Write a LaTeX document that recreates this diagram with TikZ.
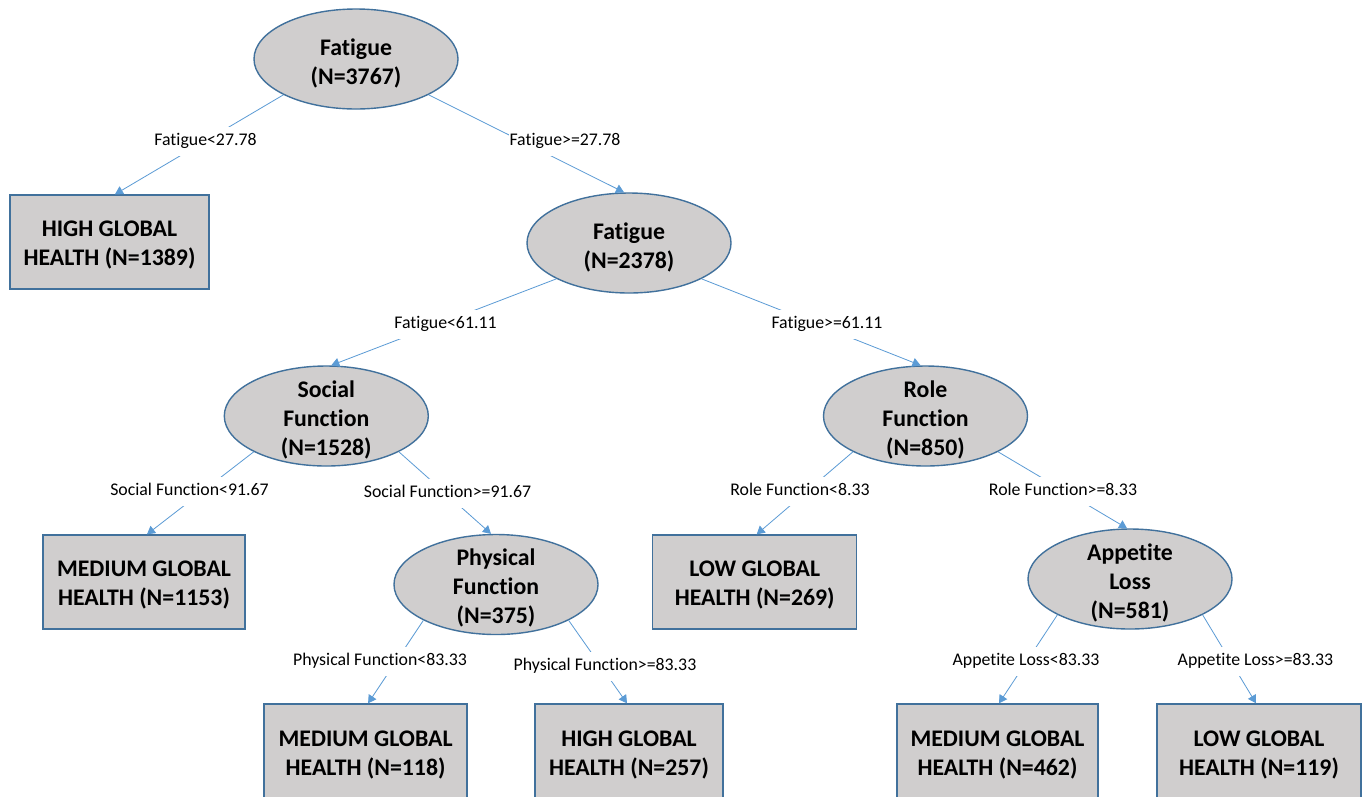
\documentclass[tikz,border=0pt]{standalone}
\usepackage{fontspec}
\setmainfont{Carlito}[Ligatures=NoCommon]
\usetikzlibrary{shapes.geometric,arrows.meta}
\definecolor{edgeblue}{HTML}{5B9BD5}
\definecolor{borderblue}{HTML}{41719C}
\definecolor{nodegray}{HTML}{D0CECE}
\begin{document}
\begin{tikzpicture}[x=1pt,y=-1pt,
 ell/.style={ellipse,draw=borderblue,line width=1.4pt,fill=nodegray,minimum width=204pt,minimum height=100pt,inner sep=0pt},
 ntxt/.style={align=center,font=\fontsize{23.8}{29}\selectfont\bfseries,inner sep=0pt},
 leaf/.style={rectangle,draw=borderblue,line width=1.4pt,fill=nodegray,minimum height=94pt,inner sep=0pt},
 conn/.style={draw=edgeblue,line width=0.8pt,-{Triangle[width=9pt,length=8pt]}},
 lab/.style={fill=white,font=\fontsize{17.8}{20}\selectfont,inner xsep=1pt,inner ysep=6pt,text height=13pt,text depth=4pt}]
\useasboundingbox (0,0) rectangle (1364,796);
\clip (0,0) rectangle (1364,796);
\fill[white] (0,0) rectangle (1364,796);
% inner nodes
\node[ell] (A) at (356,59) {};
\node[ntxt] (At) at (356,63.5) {Fatigue\\(N=3767)};
\node[ell] (B) at (629,243) {};
\node[ntxt] (Bt) at (629,247.5) {Fatigue\\(N=2378)};
\node[ell] (C) at (326.3,416) {};
\node[ntxt] (Ct) at (326.3,420) {Social\\Function\\(N=1528)};
\node[ell] (D) at (925.5,416) {};
\node[ntxt] (Dt) at (925.5,420) {Role\\Function\\(N=850)};
\node[ell] (F) at (496,584.5) {};
\node[ntxt] (Ft) at (496,587.5) {Physical\\Function\\(N=375)};
\node[ell] (H) at (1130,579) {};
\node[ntxt] (Ht) at (1130,583) {Appetite\\Loss\\(N=581)};
% leaves
\node[leaf,minimum width=199pt] (P) at (109.5,242) {};
\node[ntxt] (Pt) at (109.5,245) {HIGH GLOBAL\\HEALTH (N=1389)};
\node[leaf,minimum width=202pt] (E) at (144,582) {};
\node[ntxt] (Et) at (144,585) {MEDIUM GLOBAL\\HEALTH (N=1153)};
\node[leaf,minimum width=204pt] (G) at (754.7,582) {};
\node[ntxt] (Gt) at (754.7,585) {LOW GLOBAL\\HEALTH (N=269)};
\node[leaf,minimum width=203pt] (I) at (365.6,751) {};
\node[ntxt] (It) at (365.6,755) {MEDIUM GLOBAL\\HEALTH (N=118)};
\node[leaf,minimum width=188pt] (J) at (629,751) {};
\node[ntxt] (Jt) at (629,755) {HIGH GLOBAL\\HEALTH (N=257)};
\node[leaf,minimum width=201pt] (K) at (997.5,751) {};
\node[ntxt] (Kt) at (997.5,755) {MEDIUM GLOBAL\\HEALTH (N=462)};
\node[leaf,minimum width=204pt] (L) at (1259,751) {};
\node[ntxt] (Lt) at (1259,755) {LOW GLOBAL\\HEALTH (N=119)};
% connectors
\draw[conn] (A.south west) -- ([xshift=5.5pt]P.north);
\draw[conn] (A.south east) -- ([xshift=-5pt]B.north);
\draw[conn] (B.south west) -- ([xshift=5pt]C.north);
\draw[conn] (B.south east) -- ([xshift=-5pt]D.north);
\draw[conn] (C.south west) -- ([xshift=3pt]E.north);
\draw[conn] (C.south east) -- ([xshift=-5pt]F.north);
\draw[conn] (D.south west) -- ([xshift=2pt]G.north);
\draw[conn] (D.south east) -- ([xshift=-3pt]H.north);
\draw[conn] (F.south west) -- ([xshift=2.5pt]I.north);
\draw[conn] (F.south east) -- ([xshift=-2pt]J.north);
\draw[conn] (H.south west) -- ([xshift=1.5pt]K.north);
\draw[conn] (H.south east) -- ([xshift=-3pt]L.north);
% labels
\node[lab] (l1) at (205.5,141) {Fatigue<27.78};
\node[lab] (l2) at (565,141) {Fatigue>=27.78};
\node[lab] (l3) at (445.5,324) {Fatigue<61.11};
\node[lab] (l4) at (827,324) {Fatigue>=61.11};
\node[lab] (l5) at (189.5,491) {Social Function<91.67};
\node[lab] (l6) at (447.5,493) {Social Function>=91.67};
\node[lab] (l7) at (800,491) {Role Function<8.33};
\node[lab] (l8) at (1063,491) {Role Function>=8.33};
\node[lab] (l9) at (380,661) {Physical Function<83.33};
\node[lab] (l10) at (605,666) {Physical Function>=83.33};
\node[lab] (l11) at (1026,661) {Appetite Loss<83.33};
\node[lab] (l12) at (1255.5,661) {Appetite Loss>=83.33};
\end{tikzpicture}
\end{document}
